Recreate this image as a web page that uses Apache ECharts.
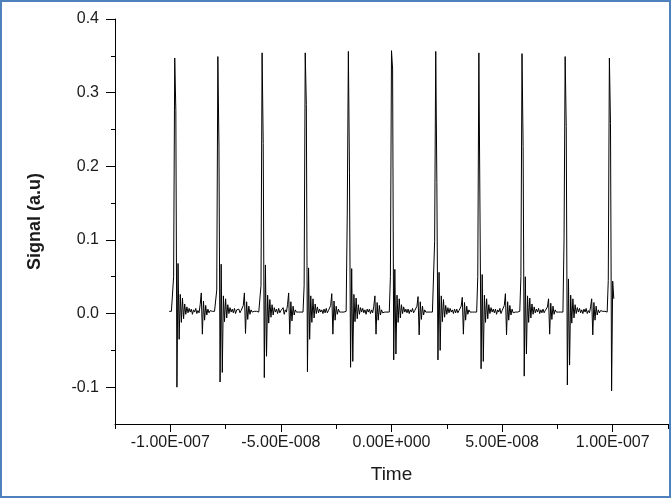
<!DOCTYPE html>
<html>
<head>
<meta charset="utf-8">
<script src="https://cdn.jsdelivr.net/npm/echarts@6/dist/echarts.min.js"></script>
<style>
  html, body { margin: 0; padding: 0; background: #ffffff; }
  #chart { width: 672px; height: 499px; }
</style>
</head>
<body>
<div id="chart"></div>
<script>
// ---- Data (time in ns, uniformly sampled; values in a.u.) ----
const sampleStartNs = -100.5;
const sampleStepNs = 0.5;

const leadIn = [0.003, 0.002];
const period01 = [0.003,0.002,0.050,0.347,0.276,-0.100,0.068,-0.035,0.026,-0.012,0.021,-0.007,0.013,-0.001,0.009,0.001,0.007,0.002,0.006,-0.001,0.005,0.002,0.007,0.000,0.004,0.001,0.012,0.028,-0.028,0.017,-0.009,0.011,-0.002,0.006,0.001,0.004,0.002,0.003,0.002];
const period02 = [0.003,0.002,0.032,0.349,0.226,-0.093,0.067,-0.080,0.024,-0.011,0.020,-0.006,0.012,0.000,0.008,0.002,0.006,0.001,0.007,0.000,0.005,0.003,0.006,0.001,0.004,0.002,0.011,0.028,-0.027,0.016,-0.008,0.010,-0.001,0.005,0.002,0.004,0.003,0.002,0.003,0.002];
const period03 = [0.002,0.003,0.038,0.354,0.231,-0.087,0.066,-0.058,0.025,-0.013,0.019,-0.005,0.012,-0.002,0.008,0.002,0.006,0.000,0.007,0.001,0.004,0.002,0.008,-0.001,0.005,0.002,0.012,0.028,-0.028,0.016,-0.010,0.010,-0.002,0.005,0.002,0.003,0.002,0.003,0.002];
const period04 = [0.003,0.002,0.038,0.354,0.284,-0.079,0.062,-0.035,0.024,-0.012,0.020,-0.006,0.013,0.000,0.009,0.001,0.006,0.002,0.005,0.000,0.006,0.001,0.007,0.001,0.004,0.002,0.011,0.027,-0.028,0.017,-0.009,0.010,-0.001,0.006,0.002,0.003,0.002,0.003,0.002];
const period05 = [0.002,0.003,0.135,0.356,0.191,-0.073,0.061,-0.065,0.026,-0.011,0.021,-0.007,0.012,-0.001,0.008,0.002,0.007,0.001,0.005,-0.001,0.006,0.002,0.006,0.000,0.005,0.001,0.010,0.024,-0.028,0.015,-0.009,0.011,-0.002,0.005,0.001,0.003,0.002,0.003,0.002];
const period06 = [0.003,0.002,0.050,0.357,0.332,-0.063,0.060,-0.055,0.025,-0.012,0.020,-0.006,0.012,0.000,0.009,0.002,0.006,0.001,0.006,0.000,0.005,0.002,0.007,0.001,0.004,0.002,0.010,0.023,-0.029,0.016,-0.008,0.010,-0.002,0.005,0.002,0.003,0.002,0.003,0.002,0.003];
const period07 = [0.002,0.003,0.098,0.356,0.178,-0.063,0.056,-0.050,0.024,-0.011,0.019,-0.005,0.011,-0.001,0.008,0.001,0.007,0.002,0.005,0.000,0.006,0.001,0.006,0.001,0.004,0.002,0.010,0.022,-0.028,0.015,-0.009,0.010,-0.001,0.005,0.002,0.003,0.002,0.003,0.002];
const period08 = [0.003,0.002,0.050,0.354,0.353,-0.075,0.053,-0.065,0.025,-0.012,0.020,-0.007,0.012,0.000,0.008,0.002,0.006,0.001,0.006,-0.001,0.005,0.002,0.007,0.000,0.004,0.002,0.011,0.027,-0.029,0.016,-0.009,0.011,-0.002,0.006,0.001,0.003,0.002,0.003,0.002];
const period09 = [0.002,0.003,0.050,0.353,0.227,-0.085,0.050,-0.055,0.024,-0.012,0.021,-0.006,0.013,-0.001,0.009,0.001,0.006,0.002,0.007,0.000,0.005,0.001,0.006,0.001,0.004,0.002,0.009,0.020,-0.028,0.014,-0.008,0.010,-0.001,0.005,0.002,0.003,0.002,0.003,0.002];
const period10 = [0.003,0.002,0.100,0.349,0.254,-0.097,0.047,-0.070,0.025,-0.013,0.020,-0.006,0.012,0.000,0.008,0.002,0.007,0.001,0.005,0.000,0.006,0.002,0.007,0.000,0.004,0.001,0.009,0.020,-0.029,0.015,-0.009,0.010,-0.002,0.005,0.001,0.004,0.002,0.003,0.002,0.003];
const period11 = [0.003,0.002,0.045,0.347,0.258,-0.105,0.044,0.020];

// ---- Axis ticks and labels ----
const xTickValues = [-1e-7, -5e-8, 0, 5e-8, 1e-7];
const xTickLabels = ['-1.00E-007', '-5.00E-008', '0.00E+000', '5.00E-008', '1.00E-007'];
const xMinorTickValues = [-1.25e-7, -7.5e-8, -2.5e-8, 2.5e-8, 7.5e-8, 1.25e-7];
const yTickValues = [-0.1, 0, 0.1, 0.2, 0.3, 0.4];
const yTickLabels = ['-0.1', '0.0', '0.1', '0.2', '0.3', '0.4'];
const yMinorTickValues = [-0.05, 0.05, 0.15, 0.25, 0.35];

// ---- Build series ----
const signal = [].concat(leadIn, period01, period02, period03, period04, period05,
  period06, period07, period08, period09, period10, period11);
const seriesData = signal.map((v, i) => [(sampleStartNs + i * sampleStepNs) * 1e-9, v]);

function lookup(values, labels, v, tol) {
  const idx = values.findIndex(t => Math.abs(t - v) < tol);
  return idx >= 0 ? labels[idx] : '';
}

const FONT = "'Liberation Sans', Arial, sans-serif";
const AXIS_COLOR = '#000000';

const chart = echarts.init(document.getElementById('chart'), null, { renderer: 'canvas' });
chart.setOption({
  animation: false,
  backgroundColor: '#ffffff',
  grid: [{ left: 115, right: 4, top: 19, bottom: 75, containLabel: false }],
  xAxis: [
    {
      type: 'value', gridIndex: 0,
      min: -1.25e-7, max: 1.25e-7,
      name: 'Time', nameLocation: 'middle', nameGap: 41,
      nameTextStyle: { fontFamily: FONT, fontSize: 19, color: '#1a1a1a' },
      axisLine: { show: true, onZero: false, lineStyle: { color: AXIS_COLOR, width: 1 } },
      axisTick: { show: true, inside: false, length: 8, customValues: xTickValues, lineStyle: { color: AXIS_COLOR, width: 1 } },
      axisLabel: {
        show: true, margin: 11, customValues: xTickValues,
        fontFamily: FONT, fontSize: 16, color: '#1a1a1a',
        formatter: v => lookup(xTickValues, xTickLabels, v, 1e-12)
      },
      splitLine: { show: false }
    },
    {
      type: 'value', gridIndex: 0,
      min: -1.25e-7, max: 1.25e-7,
      position: 'bottom',
      axisLine: { show: false, onZero: false },
      axisTick: { show: true, inside: false, length: 5, customValues: xMinorTickValues, lineStyle: { color: AXIS_COLOR, width: 1 } },
      axisLabel: { show: false },
      splitLine: { show: false }
    }
  ],
  yAxis: [
    {
      type: 'value', gridIndex: 0,
      min: -0.15, max: 0.4,
      name: 'Signal (a.u)', nameLocation: 'middle', nameGap: 71,
      nameTextStyle: { fontFamily: FONT, fontSize: 18, fontWeight: 'bold', color: '#1a1a1a' },
      axisLine: { show: true, onZero: false, lineStyle: { color: AXIS_COLOR, width: 1 } },
      axisTick: { show: true, inside: false, length: 9, customValues: yTickValues, lineStyle: { color: AXIS_COLOR, width: 1 } },
      axisLabel: {
        show: true, margin: 16, customValues: yTickValues,
        fontFamily: FONT, fontSize: 16, color: '#1a1a1a',
        formatter: v => lookup(yTickValues, yTickLabels, v, 1e-9)
      },
      splitLine: { show: false }
    },
    {
      type: 'value', gridIndex: 0,
      min: -0.15, max: 0.4,
      position: 'left',
      axisLine: { show: false, onZero: false },
      axisTick: { show: true, inside: false, length: 4, customValues: yMinorTickValues, lineStyle: { color: AXIS_COLOR, width: 1 } },
      axisLabel: { show: false },
      splitLine: { show: false }
    }
  ],
  series: [
    {
      type: 'line',
      xAxisIndex: 0, yAxisIndex: 0,
      data: seriesData,
      showSymbol: false, symbol: 'none',
      sampling: null,
      smooth: false,
      lineStyle: { color: '#000000', width: 1 },
      emphasis: { disabled: true }
    }
  ],
  graphic: [
    {
      type: 'rect', silent: true, z: 100,
      shape: { x: 1, y: 1, width: 669, height: 496 },
      style: { fill: 'none', stroke: '#4F81BD', lineWidth: 2 }
    }
  ]
});
</script>
</body>
</html>
